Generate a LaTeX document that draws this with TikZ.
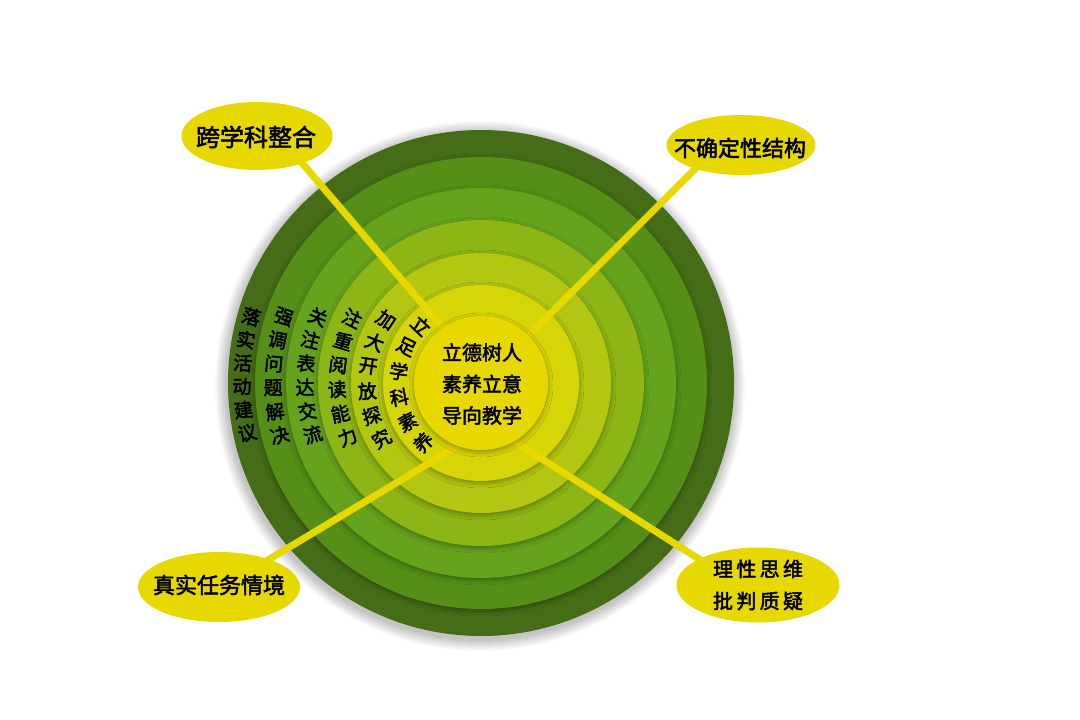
\documentclass[tikz,border=0pt]{standalone}
\usepackage{fontspec}
\newfontfamily\cjk{Noto Sans CJK SC}[FakeBold=2.4]
\usetikzlibrary{shadows.blur,shapes.geometric}
\definecolor{rA}{HTML}{456C17}
\definecolor{rB}{HTML}{568F17}
\definecolor{rC}{HTML}{66A31D}
\definecolor{rD}{HTML}{8DB515}
\definecolor{rE}{HTML}{B3C611}
\definecolor{rF}{HTML}{D5D507}
\definecolor{cen}{HTML}{E7D900}
\definecolor{yel}{HTML}{E6D800}
\tikzset{
  ringshadow/.style={blur shadow={shadow xshift=0pt, shadow yshift=-2pt, shadow blur radius=5pt, shadow opacity=35}},
  conn/.style={draw=yel, line width=7pt},
  bubble/.style={ellipse, fill=yel, inner sep=0pt},
  btext/.style={inner sep=0pt, text=black, align=center},
  arcch/.style={inner sep=0pt, font=\cjk\fontsize{19}{19}\selectfont, text=black},
}
\newcommand\arctext[5]{% radius, mid angle, spacing, name, list
  \foreach \ch [count=\i from 0] in {#5} {
    \pgfmathsetmacro\stp{#3*57.2958/#1}
    \pgfmathsetmacro\ang{#2 - 2.5*\stp + \i*\stp}
    \node[arcch, rotate=\ang-180] (#4\i) at ([shift={(\ang:#1)}]C) {\ch};
  }}
\begin{document}
\begin{tikzpicture}[x=1pt,y=1pt]
\useasboundingbox (0,0) rectangle (1080,-720);
\fill[white] (0,0) rectangle (1080,-720);
\coordinate (C) at (481,-383);
\coordinate (Cs) at (480,-386);
% soft outer shadow
\foreach \k in {1,...,12} {
  \fill[black, opacity=0.018] (Cs) circle ({253+\k});
}
% rings
\fill[rA] (C) circle (253);
\fill[rB, ringshadow] (C) circle (226);
\fill[rC, ringshadow] (C) circle (195);
\fill[rD, ringshadow] (C) circle (163);
\fill[rE, ringshadow] (C) circle (130);
\fill[rF, ringshadow] (C) circle (98);
% connectors
\coordinate (sTL) at (279,-136);
\coordinate (hTL) at (490,-383);
\coordinate (sTR) at (741,-123);
\coordinate (hTR) at (481,-383);
\coordinate (sBL) at (218,-590);
\coordinate (hBL) at (481,-432);
\coordinate (sBR) at (757,-596);
\coordinate (hBR) at (481,-420);
\draw[conn] (sTL) -- (hTL);
\draw[conn] (sTR) -- (hTR);
\draw[conn] (sBL) -- (hBL);
\draw[conn] (sBR) -- (hBR);
% core
\node[circle, fill=cen, minimum size=134, inner sep=0pt, ringshadow] (core) at (C) {};
\node[align=center, font=\cjk\fontsize{20}{31.5}\selectfont] (coretext) at (482,-384) {立德树人\\素养立意\\导向教学};
% arc texts
\arctext{239}{178}{23.5}{ta}{落,实,活,动,建,议}
\arctext{208}{178}{24}{tb}{强,调,问,题,解,决}
\arctext{176}{177.5}{24}{tc}{关,注,表,达,交,流}
\arctext{144}{177.7}{24.5}{td}{注,重,阅,读,能,力}
\arctext{114}{177.8}{25}{te}{加,大,开,放,探,究}
\arctext{83}{181}{26}{tf}{立,足,学,科,素,养}
% bubbles
\node[bubble, minimum width=151, minimum height=68] (eTL) at (257,-136) {};
\node[btext, font=\cjk\fontsize{24}{24}\selectfont] (lTL) at (256,-137) {跨学科整合};
\node[bubble, minimum width=149, minimum height=60] (eTR) at (741,-145) {};
\node[btext, font=\cjk\fontsize{22}{22}\selectfont] (lTR) at (740,-148) {不确定性结构};
\node[bubble, minimum width=162, minimum height=70] (eBL) at (219,-587) {};
\node[btext, font=\cjk\fontsize{22}{22}\selectfont] (lBL) at (219,-585) {真实任务情境};
\node[bubble, minimum width=163, minimum height=75] (eBR) at (758,-585) {};
\node[btext, font=\cjk\fontsize{20}{32}\selectfont] (lBR) at (758,-585) {理\,性\,思\,维\\批\,判\,质\,疑};
\end{tikzpicture}
\end{document}
